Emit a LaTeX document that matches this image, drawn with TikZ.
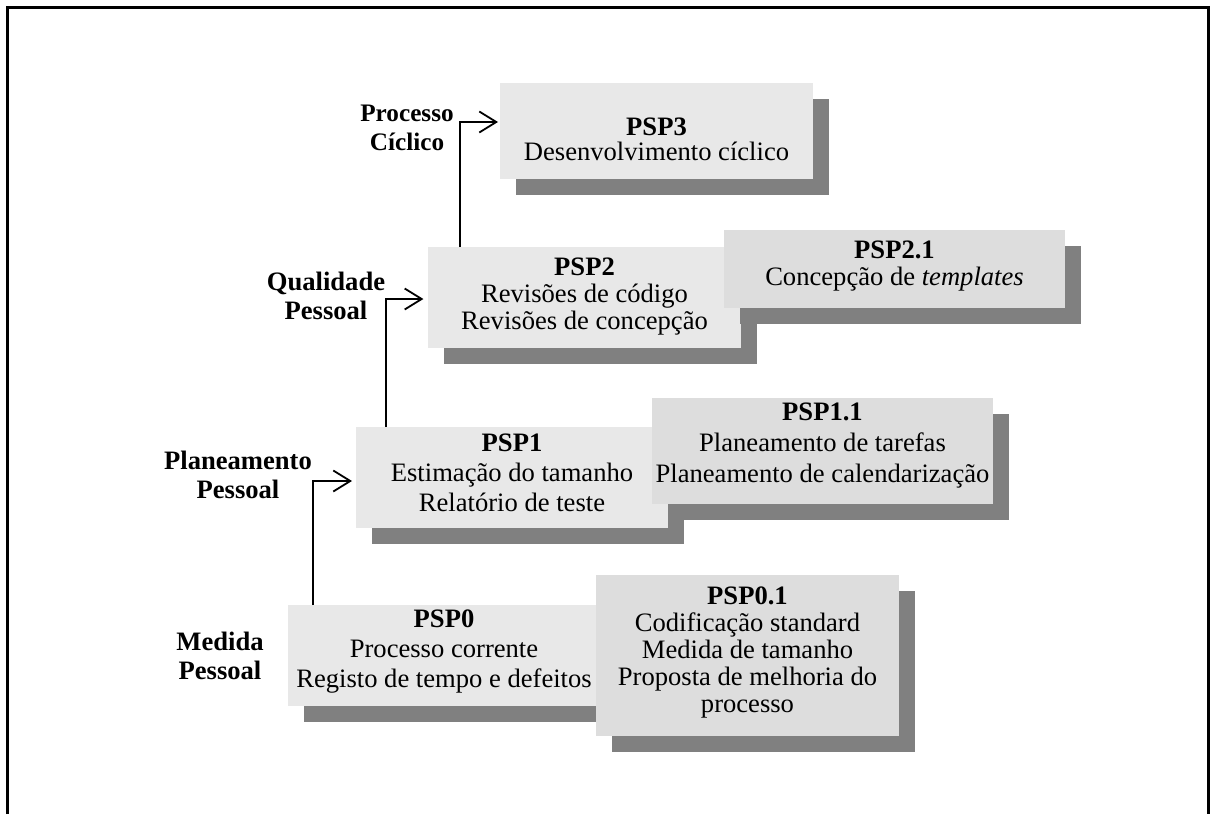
\documentclass[tikz,border=0pt]{standalone}
\usepackage{fontspec}
\setmainfont{Liberation Serif}
\usetikzlibrary{arrows.meta,shadows}
\definecolor{stagefill}{HTML}{E8E8E8}
\definecolor{extfill}{HTML}{DDDDDD}
\definecolor{shadefill}{HTML}{808080}
\begin{document}
\begin{tikzpicture}[x=0.5pt,y=-0.5pt,
  stagebox/.style={fill=#1, draw=none, inner sep=0pt, outer sep=0pt,
    drop shadow={shadow xshift=8pt, shadow yshift=-8pt, fill=shadefill, opacity=1}},
  boxtext/.style={align=center, inner sep=0pt, font=\fontsize{13.3}{#1}\selectfont},
  boxtext/.default=13.5pt,
  phase/.style={align=center, inner sep=0pt, font=\fontsize{13.3}{14.5}\selectfont\bfseries},
  flow/.style={line width=0.9pt, -{Straight Barb[length=8.5pt,width=10.5pt,line width=0.9pt]}},
  frame/.style={line width=1.5pt, line join=miter}]
\useasboundingbox (0,0) rectangle (1210,814);

% open frame (no bottom edge)
\coordinate (fbl) at (7,814);
\coordinate (ftl) at (7,7.5);
\coordinate (ftr) at (1208.5,7.5);
\coordinate (fbr) at (1208.5,814);
\draw[frame] (fbl) -- (ftl) -- (ftr) -- (fbr);

% level 0
\node[stagebox=stagefill, minimum width=156pt, minimum height=50.5pt] (psp0) at (444,655.5) {};
\node[boxtext=15pt] (psp0t) at (444,652) {\textbf{PSP0}\\Processo corrente\\Registo de tempo e defeitos};
\node[stagebox=extfill, minimum width=151.5pt, minimum height=80.5pt] (psp01) at (747.5,655.5) {};
\node[boxtext=13.5pt] (psp01t) at (747.5,652) {\textbf{PSP0.1}\\Codificação standard\\Medida de tamanho\\Proposta de melhoria do\\processo};

% level 1
\node[stagebox=stagefill, minimum width=156pt, minimum height=50.5pt] (psp1) at (512,477.5) {};
\node[boxtext=15pt] (psp1t) at (512,473) {\textbf{PSP1}\\Estimação do tamanho\\Relatório de teste};
\node[stagebox=extfill, minimum width=170.5pt, minimum height=53pt] (psp11) at (822.5,451) {};
\node[boxtext=15.5pt] (psp11t) at (822.5,446) {\textbf{PSP1.1}\\Planeamento de tarefas\\Planeamento de calendarização};

% level 2
\node[stagebox=stagefill, minimum width=156.5pt, minimum height=50.5pt] (psp2) at (584.5,297.5) {};
\node[boxtext=13.5pt] (psp2t) at (584.5,297) {\textbf{PSP2}\\Revisões de código\\Revisões de concepção};
\node[stagebox=extfill, minimum width=170.5pt, minimum height=39pt] (psp21) at (894.5,269) {};
\node[boxtext=13.5pt] (psp21t) at (894.5,266) {\textbf{PSP2.1}\\Concepção de \textit{templates}};

% level 3
\node[stagebox=stagefill, minimum width=156.5pt, minimum height=48pt] (psp3) at (656.5,131) {};
\node[boxtext=12.5pt] (psp3t) at (656.5,139) {\textbf{PSP3}\\Desenvolvimento cíclico};

% phase labels
\node[phase] (lmed) at (220,656) {Medida\\Pessoal};
\node[phase] (lplan) at (238,475) {Planeamento\\Pessoal};
\node[phase] (lqual) at (326,296) {Qualidade\\Pessoal};
\node[phase, font=\fontsize{12.6}{14.5}\selectfont\bfseries] (lcic) at (407,128) {Processo\\Cíclico};

% progression arrows
\draw[flow] ([xshift=12.5pt]psp0.north west) |- ([xshift=-2pt,yshift=-1.75pt]psp1.west);
\draw[flow] ([xshift=15pt]psp1.north west) |- ([xshift=-2.3pt,yshift=-0.75pt]psp2.west);
\draw[flow] ([xshift=16pt]psp2.north west) |- ([xshift=-1pt,yshift=4.5pt]psp3.west);
\end{tikzpicture}
\end{document}
